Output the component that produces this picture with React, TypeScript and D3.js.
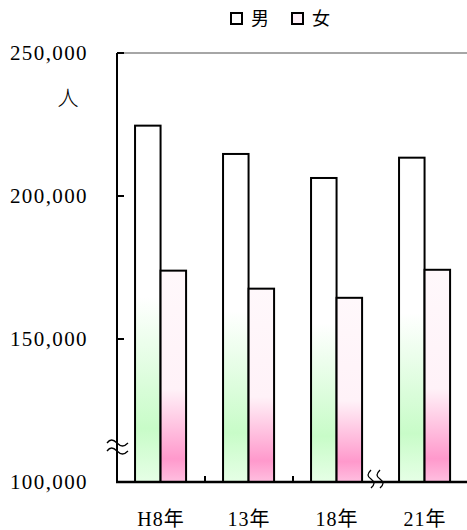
import React from "react";
import * as d3 from "d3";

const categories = ["H8年", "13年", "18年", "21年"];
const seriesNames = ["男", "女"];
const maleValues = [224600, 214700, 206300, 213400];
const femaleValues = [173900, 167600, 164400, 174200];
const yTicks = [100000, 150000, 200000, 250000];
const unitLabel = "人";

const W = 467;
const H = 530;
const FONT = "'Liberation Serif', 'Noto Sans CJK JP', serif";

export default function App() {
  const left = 117;
  const right = 469;
  const top = 53;
  const bottom = 482;

  const y = d3.scaleLinear().domain([100000, 250000]).range([bottom, top]);
  const x0 = d3.scaleBand<string>().domain(categories).range([left, right]).padding(0);
  const bw = x0.bandwidth();
  const x1 = d3.scaleBand<string>().domain(seriesNames).range([bw * 0.205, bw * 0.785]).padding(0);

  const data = categories.map((c, i) => ({ c, vals: [maleValues[i], femaleValues[i]] }));
  const fills = ["url(#gMale)", "url(#gFemale)"];

  const tildeY = (cy: number) =>
    `M107,${cy} C110,${cy - 4} 113,${cy - 4} 117,${cy} S124,${cy + 4} 128,${cy}`;
  const wavyX = (cx: number) =>
    `M${cx},470 C${cx - 4},474 ${cx - 4},476 ${cx},479 S${cx + 4},484 ${cx},488`;

  const boundaries = categories.slice(1).map((c) => x0(c) as number);

  return (
    <div style={{ position: "absolute", left: 0, top: 0 }}>
      <svg width={W} height={H} style={{ display: "block", background: "#fff" }}>
        <defs>
          <linearGradient id="gMale" x1="0" y1="0" x2="0" y2="1">
            <stop offset="0" stopColor="#ffffff" />
            <stop offset="0.48" stopColor="#ffffff" />
            <stop offset="0.85" stopColor="#c8fcc8" />
            <stop offset="1" stopColor="#e6ffe6" />
          </linearGradient>
          <linearGradient id="gFemale" x1="0" y1="0" x2="0" y2="1">
            <stop offset="0" stopColor="#fff8fb" />
            <stop offset="0.56" stopColor="#fff2f8" />
            <stop offset="0.89" stopColor="#ff99cc" />
            <stop offset="1" stopColor="#ffbfe0" />
          </linearGradient>
        </defs>

        {/* top gray border */}
        <line x1={left} x2={W} y1={top} y2={top} stroke="#888" strokeWidth={1.5} />

        {/* bars */}
        {data.map((d) =>
          d.vals.map((v, j) => (
            <rect
              key={d.c + j}
              x={(x0(d.c) as number) + (x1(seriesNames[j]) as number)}
              y={y(v)}
              width={x1.bandwidth()}
              height={bottom - y(v)}
              fill={fills[j]}
              stroke="#000"
              strokeWidth={2}
            />
          ))
        )}

        {/* y axis */}
        <line x1={left} x2={left} y1={top} y2={bottom} stroke="#000" strokeWidth={2} />
        {yTicks.map((t) => (
          <g key={t}>
            <line x1={left} x2={left + 7} y1={y(t)} y2={y(t)} stroke="#000" strokeWidth={2} />
            <text
              x={88}
              y={y(t)}
              textAnchor="end"
              dominantBaseline="central"
              fontFamily={FONT}
              fontSize={21}
              letterSpacing={1.4}
              fill="#000"
            >
              {d3.format(",")(t)}
            </text>
          </g>
        ))}
        <text x={68} y={98} textAnchor="middle" dominantBaseline="central" fontFamily={FONT} fontSize={21} fontWeight={300} fill="#000">
          {unitLabel}
        </text>

        {/* x axis */}
        <line x1={left - 1} x2={W} y1={bottom} y2={bottom} stroke="#000" strokeWidth={2.5} />
        {boundaries.slice(0, 2).map((bx) => (
          <line key={bx} x1={bx} x2={bx} y1={bottom} y2={bottom - 6} stroke="#000" strokeWidth={2} />
        ))}
        {categories.map((c) => (
          <text
            key={c}
            x={(x0(c) as number) + bw / 2}
            y={519}
            textAnchor="middle"
            dominantBaseline="central"
            fontFamily={FONT}
            fontSize={20}
            letterSpacing={1}
            fill="#000"
          >
            {c}
          </text>
        ))}

        {/* break marks */}
        <path d={tildeY(443)} fill="none" stroke="#000" strokeWidth={1.3} />
        <path d={tildeY(451)} fill="none" stroke="#000" strokeWidth={1.3} />
        <path d={wavyX(371)} fill="none" stroke="#000" strokeWidth={1.3} />
        <path d={wavyX(380)} fill="none" stroke="#000" strokeWidth={1.3} />

        {/* legend */}
        {seriesNames.map((s, i) => {
          const lx = 231 + i * 61;
          return (
            <g key={s}>
              <rect x={lx} y={13} width={11} height={11} fill={i === 0 ? "#fff" : "#fff0f8"} stroke="#000" strokeWidth={2} />
              <text x={lx + 20} y={19} dominantBaseline="central" fontFamily={FONT} fontSize={18} fill="#000">
                {s}
              </text>
            </g>
          );
        })}
      </svg>
    </div>
  );
}
